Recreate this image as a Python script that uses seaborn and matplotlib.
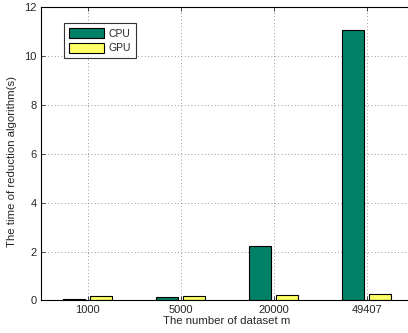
import matplotlib
matplotlib.use("Agg")
import matplotlib.pyplot as plt
import seaborn as sns
import pandas as pd

# Dataset sizes and reduction times (seconds)
sizes = ["1000", "5000", "20000", "49407"]
cpu_time = [0.05, 0.13, 2.23, 11.07]
gpu_time = [0.18, 0.18, 0.21, 0.25]
devices = ["CPU", "GPU"]
y_ticks = [0, 2, 4, 6, 8, 10, 12]

df = pd.DataFrame({
    "size": sizes * 2,
    "time": cpu_time + gpu_time,
    "device": [devices[0]] * len(sizes) + [devices[1]] * len(sizes),
})

sns.set_style("ticks")
plt.rcParams["font.family"] = ["Liberation Sans", "DejaVu Sans"]
plt.rcParams["font.size"] = 8

fig = plt.figure(figsize=(4.08, 3.33), dpi=100)
ax = fig.add_axes([0.1005, 0.0976, 0.912, 0.881])

palette = {"CPU": "#008066", "GPU": "#FFFF66"}
sns.barplot(data=df, x="size", y="time", hue="device", order=sizes,
            hue_order=devices, palette=palette, width=0.58, gap=0.2,
            edgecolor="black", linewidth=0.8, saturation=1, ax=ax,
            errorbar=None)

ax.set_xlim(-0.5, 3.5)
ax.set_ylim(0, 12)
ax.set_yticks(y_ticks)
ax.set_yticklabels([str(t) for t in y_ticks])
ax.set_xlabel("The number of dataset m", fontsize=8.2, labelpad=1)
ax.set_ylabel("The time of reduction algorithm(s)", fontsize=8.2)
ax.yaxis.set_label_coords(-0.064, 0.473)

ax.grid(True, linestyle=(0, (1, 3)), color="#777777", linewidth=0.6)
ax.set_axisbelow(True)
for s in ax.spines.values():
    s.set_visible(True)
    s.set_linewidth(0.8)
    s.set_color("black")
ax.tick_params(direction="in", length=3, width=0.6, top=True, right=True,
               labelsize=8, pad=3)

leg = ax.legend(loc="upper left", bbox_to_anchor=(0.062, 0.945),
                borderaxespad=0, frameon=True, fancybox=False,
                edgecolor="black", fontsize=7.5, handlelength=3.3,
                handleheight=1.1, handletextpad=0.45, borderpad=0.5,
                labelspacing=0.35)
leg.get_frame().set_linewidth(0.8)

fig.savefig("out.png", dpi=100)
